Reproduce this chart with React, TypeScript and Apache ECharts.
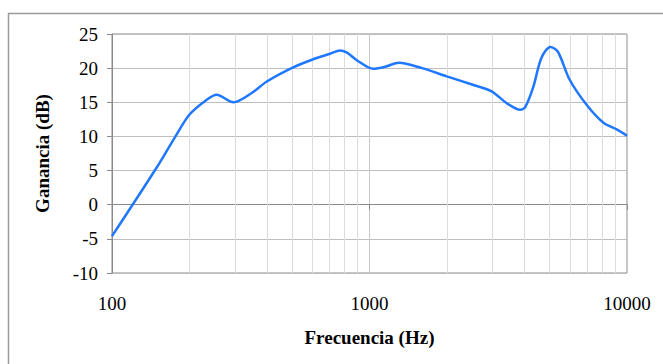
import React, { useEffect, useRef } from "react";
import * as echarts from "echarts";

// Frequency response: gain (dB) versus frequency (Hz)
const frequencies = [100, 150, 175, 200, 230, 255, 296, 350, 398, 505, 605, 703, 768, 815, 901, 1034, 1150, 1300, 1600, 1995, 2500, 2980, 3400, 3850, 4025, 4330, 4650, 5040, 5390, 5990, 6980, 8100, 9150, 10000];
const gains = [-4.6, 5.6, 9.8, 13.2, 15.2, 16.1, 15.0, 16.4, 18.0, 20.1, 21.3, 22.1, 22.6, 22.3, 21.05, 19.9, 20.2, 20.8, 20.0, 18.8, 17.6, 16.6, 14.9, 13.9, 14.3, 17.3, 21.5, 23.1, 22.4, 18.3, 14.6, 12.0, 11.0, 10.1];

const minorGridFreqs = [200, 300, 400, 500, 600, 700, 800, 900, 2000, 3000, 4000, 5000, 6000, 7000, 8000, 9000];
const xTickLabels = ["100", "1000", "10000"];

const FONT = "'Liberation Serif', 'DejaVu Serif', serif";

export default function App() {
  const ref = useRef<HTMLDivElement>(null);

  useEffect(() => {
    if (!ref.current) return;
    const chart = echarts.init(ref.current, undefined, { renderer: "svg" });
    chart.setOption({
      animation: false,
      backgroundColor: "#ffffff",
      graphic: [
        {
          type: "rect",
          shape: { x: 8.5, y: 13.5, width: 720, height: 420 },
          style: { fill: "none", stroke: "#9a9a9a", lineWidth: 1.5 },
          silent: true,
          z: -1,
        },
      ],
      grid: {
        left: 112,
        top: 34,
        right: 36,
        bottom: 91,
        show: true,
        borderColor: "#8a8a8a",
        borderWidth: 1,
      },
      xAxis: {
        type: "log",
        logBase: 10,
        min: 100,
        max: 10000,
        name: "Frecuencia (Hz)",
        nameLocation: "middle",
        nameGap: 55,
        nameTextStyle: { fontFamily: FONT, fontSize: 19, fontWeight: "bold", color: "#000" },
        axisLine: { show: true, lineStyle: { color: "#8a8a8a", width: 1 } },
        axisTick: { show: true, inside: false, length: 5, lineStyle: { color: "#8a8a8a" } },
        axisLabel: {
          fontFamily: FONT,
          fontSize: 19,
          color: "#000",
          margin: 21,
          formatter: (v: number) => {
            const s = String(Math.round(v));
            return xTickLabels.includes(s) ? s : "";
          },
        },
        splitLine: { show: true, lineStyle: { color: "#c8c8c8", width: 1 } },
      },
      yAxis: {
        type: "value",
        min: -10,
        max: 25,
        interval: 5,
        name: "Ganancia (dB)",
        nameLocation: "middle",
        nameGap: 60,
        nameRotate: 90,
        nameTextStyle: { fontFamily: FONT, fontSize: 19, fontWeight: "bold", color: "#000" },
        axisLine: { show: true, lineStyle: { color: "#8a8a8a", width: 1 } },
        axisTick: { show: true, inside: false, length: 5, lineStyle: { color: "#8a8a8a" } },
        axisLabel: { fontFamily: FONT, fontSize: 19, color: "#000", margin: 14 },
        splitLine: { show: true, lineStyle: { color: "#bdbdbd", width: 1 } },
      },
      series: [
        {
          type: "line",
          data: frequencies.map((f, i) => [f, gains[i]]),
          smooth: 0.3,
          showSymbol: false,
          lineStyle: { color: "#1f78ff", width: 2.5 },
          z: 3,
          markLine: {
            silent: true,
            symbol: ["none", "none"],
            label: { show: false },
            lineStyle: { color: "#dcdcdc", width: 1, type: "solid" },
            data: minorGridFreqs.map((f) => ({ xAxis: f })),
            z: 1,
          },
        },
      ],
    });
    return () => chart.dispose();
  }, []);

  return (
    <div
      ref={ref}
      style={{ position: "absolute", left: 0, top: 0, width: 663, height: 364 }}
    />
  );
}
